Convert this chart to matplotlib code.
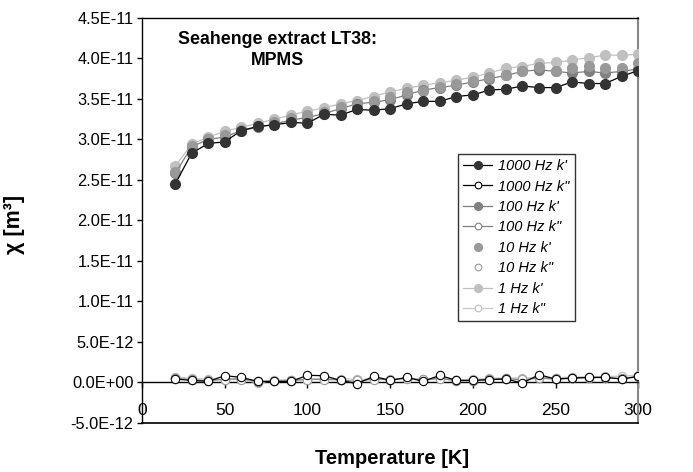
import numpy as np
import matplotlib.pyplot as plt
from matplotlib.ticker import FuncFormatter

plt.rcParams['font.family'] = ['Liberation Sans', 'DejaVu Sans']

temps = np.arange(20, 301, 10)

# in-phase k' (units of 1E-11 m^3)
k1000_re = [2.45, 2.83, 2.95, 2.97, 3.11, 3.16, 3.18, 3.21, 3.20, 3.31, 3.30, 3.37, 3.36, 3.38, 3.44,
            3.47, 3.47, 3.53, 3.55, 3.61, 3.62, 3.66, 3.64, 3.64, 3.71, 3.69, 3.69, 3.78, 3.85]
k100_re = [2.58, 2.91, 3.00, 3.03, 3.11, 3.15, 3.19, 3.24, 3.27, 3.32, 3.38, 3.44, 3.46, 3.49, 3.55,
           3.61, 3.64, 3.67, 3.71, 3.75, 3.79, 3.84, 3.86, 3.84, 3.82, 3.84, 3.82, 3.84, 3.87]
k10_re = [2.60, 2.92, 3.01, 3.06, 3.12, 3.17, 3.22, 3.26, 3.30, 3.34, 3.40, 3.43, 3.48, 3.53, 3.58,
          3.60, 3.65, 3.69, 3.72, 3.77, 3.80, 3.84, 3.89, 3.84, 3.88, 3.91, 3.88, 3.88, 3.94]
k1_re = [2.67, 2.94, 3.03, 3.10, 3.15, 3.20, 3.25, 3.30, 3.35, 3.39, 3.44, 3.48, 3.53, 3.59, 3.63,
         3.67, 3.70, 3.73, 3.77, 3.82, 3.88, 3.90, 3.94, 3.95, 3.98, 4.01, 4.04, 4.04, 4.05]

# out-of-phase k'' (units of 1E-12 m^3)
k1000_im = [0.42, 0.25, 0.13, 0.83, 0.62, 0.13, 0.13, 0.13, 0.87, 0.83, 0.25, -0.16, 0.75, 0.25, 0.62,
            0.13, 0.87, 0.25, 0.25, 0.34, 0.42, -0.08, 0.95, 0.42, 0.54, 0.62, 0.62, 0.42, 0.75]
k100_im = [0.50, 0.35, 0.20, 0.40, 0.45, 0.10, 0.15, 0.20, 0.40, 0.40, 0.30, 0.10, 0.45, 0.30, 0.50,
           0.30, 0.50, 0.20, 0.20, 0.40, 0.50, 0.30, 0.55, 0.40, 0.50, 0.60, 0.60, 0.45, 0.70]
k10_im = [0.60, 0.40, 0.25, 0.30, 0.35, 0.20, 0.20, 0.30, 0.30, 0.30, 0.35, 0.30, 0.30, 0.35, 0.40,
          0.40, 0.40, 0.30, 0.30, 0.40, 0.45, 0.45, 0.50, 0.50, 0.55, 0.60, 0.65, 0.60, 0.80]
k1_im = [0.70, 0.50, 0.40, 0.35, 0.40, -0.10, 0.30, 0.35, 0.35, 0.40, 0.45, 0.40, 0.40, 0.45, 0.50,
         0.40, 0.50, 0.30, 0.40, 0.50, 0.55, 0.55, 0.60, 0.60, 0.65, 0.70, 0.75, 0.75, 0.90]

fig = plt.figure(figsize=(6.93, 4.72), dpi=100)
ax = fig.add_axes([0.205, 0.104, 0.716, 0.858])

ms = 7
def re(v):
    return np.array(v) * 1e-11
def im(v):
    return np.array(v) * 1e-12

ax.plot(temps, re(k1000_re), '-o', color='black', mfc='#333333', mec='#333333', ms=ms, lw=0.9,
        label="1000 Hz k'", zorder=6)
ax.plot(temps, im(k1000_im), '-o', color='black', mfc='white', mec='black', ms=ms - 1, mew=0.8,
        lw=0.9, label='1000 Hz k"', zorder=6)
ax.plot(temps, re(k100_re), '-o', color='#7f7f7f', mfc='#808080', mec='#808080', ms=ms, lw=0.9,
        label="100 Hz k'", zorder=4)
ax.plot(temps, im(k100_im), '-o', color='#808080', mfc='white', mec='#808080', ms=ms - 1, mew=0.8,
        lw=0.9, label='100 Hz k"', zorder=4)
ax.plot(temps, re(k10_re), 'o', mfc='#999999', mec='#999999', ms=ms,
        label="10 Hz k'", zorder=4)
ax.plot(temps, im(k10_im), 'o', mfc='white', mec='#999999', ms=ms - 1, mew=0.8,
        label='10 Hz k"', zorder=4)
ax.plot(temps, re(k1_re), '-o', color='#c0c0c0', mfc='#c0c0c0', mec='#c0c0c0', ms=ms, lw=0.9,
        label="1 Hz k'", zorder=3)
ax.plot(temps, im(k1_im), '-o', color='#c8c8c8', mfc='white', mec='#bdbdbd', ms=ms - 1, mew=0.8,
        lw=0.9, label='1 Hz k"', zorder=3)

ax.set_xlim(0, 300)
ax.set_ylim(-5e-12, 4.5e-11)
ax.set_xticks(np.arange(0, 301, 50))
ax.set_yticks(np.arange(-5e-12, 4.6e-11, 5e-12))

def fmt_y(v, p):
    if abs(v) < 1e-15:
        return '0.0E+00'
    m, e = '{:.1E}'.format(v).split('E')
    return '{}E{}{:02d}'.format(m, '-' if int(e) < 0 else '+', abs(int(e)))
ax.yaxis.set_major_formatter(FuncFormatter(fmt_y))

ax.spines['bottom'].set_position(('data', 0))
ax.spines['bottom'].set_linewidth(1.0)
ax.spines['left'].set_linewidth(1.0)
ax.spines['top'].set_linewidth(1.0)
ax.spines['right'].set_color('#888888')
ax.spines['right'].set_linewidth(1.5)
ax.plot([0, 1], [0, 0], transform=ax.transAxes, color='black', lw=1.2, clip_on=False, zorder=5)

ax.tick_params(axis='y', direction='out', length=3.5, width=1, labelsize=11.8, pad=2.5)
ax.tick_params(axis='x', direction='out', length=4, width=1, labelsize=12.5, pad=11)

ax.set_xlabel('Temperature [K]', fontsize=14.5, fontweight='bold')
ax.xaxis.set_label_coords(0.503, -0.065)
ax.set_ylabel('χ [m³]', fontsize=15.5, fontweight='bold')
ax.yaxis.set_label_coords(-0.235, 0.49)

ax.text(0.272, 0.968, 'Seahenge extract LT38:\nMPMS', transform=ax.transAxes, ha='center', va='top',
        fontsize=12.8, fontweight='bold', linespacing=1.3)

leg = ax.legend(loc='upper left', bbox_to_anchor=(0.637, 0.664),
                prop={'style': 'italic', 'size': 10.5}, frameon=True, fancybox=False,
                edgecolor='black', borderpad=0.35, labelspacing=0.44, handlelength=2.0,
                handletextpad=0.4, markerscale=0.8, borderaxespad=0)
leg.get_frame().set_linewidth(1.0)

fig.savefig('out.png', dpi=100)
